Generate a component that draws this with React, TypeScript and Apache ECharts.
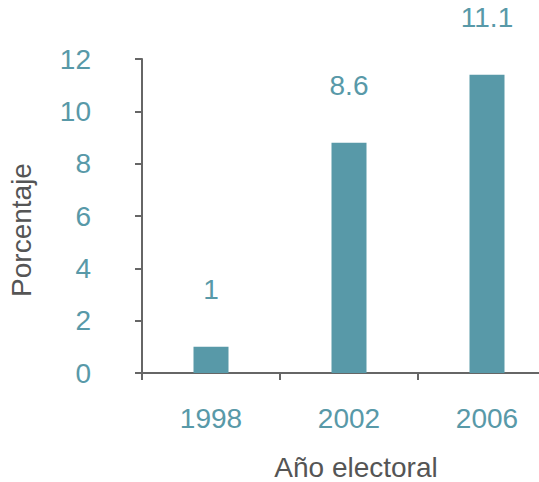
import React, { useEffect, useRef } from "react";
import * as echarts from "echarts";

const years = ["1998", "2002", "2006"];
const percentages = [1.0, 8.8, 11.4];
const labelTexts = ["1", "8.6", "11.1"];
const yTicks = { min: 0, max: 12, interval: 2 };

const TEAL = "#5899a8";
const GRAY = "#666666";
const FONT = "Liberation Sans, Arial, sans-serif";

export default function App() {
  const ref = useRef<HTMLDivElement>(null);
  useEffect(() => {
    if (!ref.current) return;
    const chart = echarts.init(ref.current, undefined, { renderer: "svg" });
    chart.setOption({
      animation: false,
      grid: {
        left: 142,
        top: 59,
        bottom: 109,
        width: 414,
        containLabel: false,
        outerBoundsMode: "none",
      },
      xAxis: {
        type: "category",
        data: years,
        name: "Año electoral",
        nameLocation: "middle",
        nameGap: 80,
        nameTextStyle: { color: "#555555", fontSize: 28, fontFamily: FONT, padding: [0, 0, 0, 14] },
        axisLine: { lineStyle: { color: GRAY, width: 2 } },
        axisTick: { show: true, length: 7, lineStyle: { color: GRAY, width: 2 } },
        axisLabel: { color: TEAL, fontSize: 28, fontFamily: FONT, margin: 31 },
        splitLine: { show: false },
      },
      yAxis: {
        type: "value",
        min: yTicks.min,
        max: yTicks.max,
        interval: yTicks.interval,
        name: "Porcentaje",
        nameLocation: "middle",
        nameGap: 107,
        nameRotate: 90,
        nameTextStyle: { color: "#555555", fontSize: 28, fontFamily: FONT, padding: [0, 28, 0, 0] },
        axisLine: { show: true, lineStyle: { color: GRAY, width: 2 } },
        axisTick: { show: true, length: 7, lineStyle: { color: GRAY, width: 2 } },
        axisLabel: { color: TEAL, fontSize: 28, fontFamily: FONT, margin: 51 },
        splitLine: { show: false },
      },
      series: [
        {
          type: "bar",
          data: percentages,
          barWidth: 35,
          itemStyle: { color: TEAL },
          label: {
            show: true,
            position: "top",
            distance: 43,
            color: TEAL,
            fontSize: 28,
            fontFamily: FONT,
            formatter: (p: any) => labelTexts[p.dataIndex],
          },
        },
      ],
    });
    return () => chart.dispose();
  }, []);
  return (
    <div
      ref={ref}
      style={{ position: "absolute", left: 0, top: 0, width: 539, height: 482 }}
    />
  );
}
